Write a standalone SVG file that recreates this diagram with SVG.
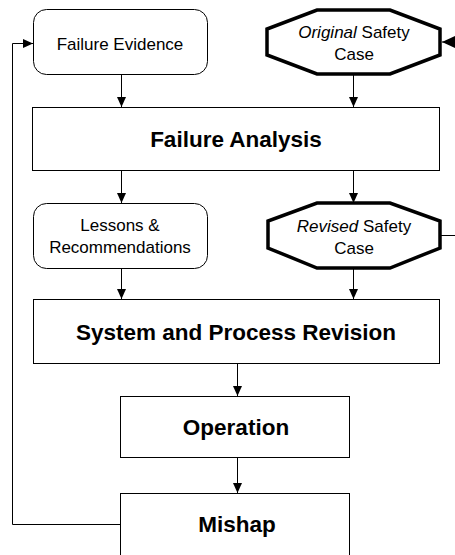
<svg xmlns="http://www.w3.org/2000/svg" width="455" height="555" viewBox="0 0 455 555">
<style>
.box{fill:#fff;stroke:#000;stroke-width:1}
.oct{fill:#fff;stroke:#000;stroke-width:3.5;stroke-linejoin:miter}
.t{font-family:"Liberation Sans",Arial,sans-serif;font-size:17px;fill:#000;text-anchor:middle}
.b{font-family:"Liberation Sans",Arial,sans-serif;font-size:22.5px;font-weight:bold;fill:#000;text-anchor:middle}
.c{fill:none;stroke:#000;stroke-width:1}
</style>
<defs>
<marker id="ah" markerUnits="userSpaceOnUse" markerWidth="10" markerHeight="10" viewBox="0 0 10 10" refX="10" refY="5" orient="auto">
<path d="M0,0.5 L10,5 L0,9.5 Z" fill="#000"/>
</marker>
<marker id="ahb" markerUnits="userSpaceOnUse" markerWidth="15" markerHeight="14" viewBox="0 0 15 14" refX="15" refY="7" orient="auto">
<path d="M0,0 L15,7 L0,14 Z" fill="#000"/>
</marker>
</defs>
<g id="connectors">
<line class="c" x1="121.5" y1="74" x2="121.5" y2="107" marker-end="url(#ah)"/>
<line class="c" x1="353.5" y1="75" x2="353.5" y2="107" marker-end="url(#ah)"/>
<line class="c" x1="121.5" y1="171" x2="121.5" y2="203" marker-end="url(#ah)"/>
<line class="c" x1="353.5" y1="171" x2="353.5" y2="203" marker-end="url(#ah)"/>
<line class="c" x1="121.5" y1="268" x2="121.5" y2="299" marker-end="url(#ah)"/>
<line class="c" x1="353.5" y1="269" x2="353.5" y2="299" marker-end="url(#ah)"/>
<line class="c" x1="237.5" y1="364" x2="237.5" y2="396" marker-end="url(#ah)"/>
<line class="c" x1="237.5" y1="458" x2="237.5" y2="493" marker-end="url(#ah)"/>
<polyline class="c" points="120,524.5 12.5,524.5 12.5,43.5 33,43.5" marker-end="url(#ah)"/>
<polyline class="c" points="440,235.5 470,235.5 470,42 442,42" stroke-width="3" marker-end="url(#ahb)"/>
</g>
<g id="failure-evidence">
<rect class="box" x="33.5" y="9.5" width="174" height="65" rx="13"/>
<text class="t" x="120" y="50">Failure Evidence</text>
</g>
<g id="original-safety-case">
<polygon class="oct" points="317,10 390,10 440,29 440,55 390,74 317,74 267,55 267,29"/>
<text class="t" x="354" y="38"><tspan font-style="italic">Original</tspan> Safety</text>
<text class="t" x="354" y="60">Case</text>
</g>
<g id="failure-analysis">
<rect class="box" x="32.5" y="107.5" width="407" height="63"/>
<text class="b" x="236" y="147">Failure Analysis</text>
</g>
<g id="lessons">
<rect class="box" x="33.5" y="203.5" width="174" height="65" rx="13"/>
<text class="t" x="120" y="231">Lessons &amp;</text>
<text class="t" x="120" y="253">Recommendations</text>
</g>
<g id="revised-safety-case">
<polygon class="oct" points="317,203 390,203 440,221 440,248 390,268 317,268 268,248 268,221"/>
<text class="t" x="354" y="232"><tspan font-style="italic">Revised</tspan> Safety</text>
<text class="t" x="354" y="254">Case</text>
</g>
<g id="system-process-revision">
<rect class="box" x="33.5" y="299.5" width="406" height="64"/>
<text class="b" x="236" y="340">System and Process Revision</text>
</g>
<g id="operation">
<rect class="box" x="120.5" y="396.5" width="229" height="61"/>
<text class="b" x="236" y="435">Operation</text>
</g>
<g id="mishap">
<rect class="box" x="120.5" y="493.5" width="229" height="70"/>
<text class="b" x="237" y="532">Mishap</text>
</g>
</svg>
